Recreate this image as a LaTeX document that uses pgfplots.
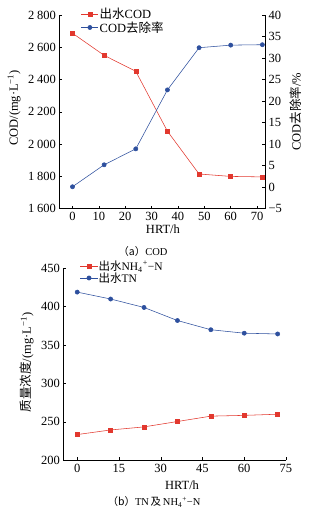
\documentclass[border=0pt]{standalone}
\usepackage{fontspec}
\setmainfont{Liberation Serif}
\newfontfamily\cjk{Noto Sans CJK SC}
\usepackage{pgfplots}
\pgfplotsset{compat=1.18}
\definecolor{cred}{RGB}{226,56,46}
\definecolor{cblue}{RGB}{46,80,158}
\pgfplotsset{
  common/.style={scale only axis, anchor=south west,
    font=\fontsize{12.5}{14}\selectfont,
    tick align=inside, major tick length=3pt,
    tick style={black, line width=0.45pt},
    axis line style={line width=0.5pt},
    /pgf/number format/assume math mode=true,
    /pgf/number format/1000 sep={\hspace{0.22em}},
    legend cell align=left,
    clip=false},
  redl/.style={color=cred, line width=0.55pt, mark=square*, mark size=2pt, mark options={fill=cred, draw=cred}},
  bluel/.style={color=cblue, line width=0.55pt, mark=*, mark size=2.1pt, mark options={fill=cblue, draw=cblue}},
}
\pgfplotstableread{
x cod rate
0 2687 0.1
12 2550 5.2
24 2451 8.9
36 2080 22.6
48 1815 32.4
60 1800 33.0
72 1797 33.1
}\codtable
\pgfplotstableread{
x nh tn
0 233.5 419
12 239.5 410
24 243.5 399
36 250.5 382
48 257.5 370
60 258.5 365.5
72 260 364.5
}\ntable
\begin{document}
\begin{tikzpicture}
\useasboundingbox (0pt,0pt) rectangle (323pt,514pt);
% ---------- top chart, left axis
\begin{axis}[common, at={(59.3pt,305.3pt)}, width=205.7pt, height=193.7pt,
  xmin=-5, xmax=73, ymin=1600, ymax=2800,
  axis x line*=bottom, axis y line*=left,
  xtick={0,10,...,70}, ytick={1600,1800,...,2800},
  xlabel={HRT/h}, xlabel style={at={(axis description cs:0.504,-0.105)}, anchor=center},
  ylabel={COD/(mg·L\textsuperscript{−1})},
  ylabel style={at={(axis description cs:-0.22,0.52)}, anchor=center, rotate=0},
]
\addplot[redl] table[x=x, y=cod] {\codtable};
\end{axis}
% ---------- top chart, right axis
\begin{axis}[common, at={(59.3pt,305.3pt)}, width=205.7pt, height=193.7pt,
  xmin=-5, xmax=73, ymin=-5, ymax=40,
  axis x line=none, axis y line*=right,
  ytick={-5,0,...,40}, yticklabels={−5,0,5,10,15,20,25,30,35,40},
  ylabel={COD{\cjk 去除率}/\%},
  ylabel style={at={(axis description cs:1.15,0.5)}, anchor=center, rotate=0},
  legend style={at={(0.105,1.04)}, anchor=north west, draw=none, fill=none,
    font=\fontsize{12.5}{13}\selectfont, inner sep=0pt, row sep=-1pt,
    nodes={inner sep=1pt}},
]
\addlegendimage{redl}
\addlegendentry{{\cjk 出水}COD}
\addplot[bluel] table[x=x, y=rate] {\codtable};
\addlegendentry{COD{\cjk 去除率}}
\end{axis}
\node[font=\fontsize{10.5}{12}\selectfont] at (143pt,262pt) {{\cjk （a）}COD};
% ---------- bottom chart
\begin{axis}[common, at={(63.3pt,53.7pt)}, width=222.7pt, height=192pt,
  xmin=-5, xmax=75, ymin=200, ymax=450,
  axis x line*=bottom, axis y line*=left,
  xtick={0,15,...,75}, ytick={200,250,...,450},
  xlabel={HRT/h}, xlabel style={at={(axis description cs:0.533,-0.129)}, anchor=center},
  ylabel={{\cjk 质量浓度}/(mg·L\textsuperscript{−1})},
  ylabel style={at={(axis description cs:-0.163,0.51)}, anchor=center, rotate=0},
  legend style={at={(0.075,1.045)}, anchor=north west, draw=none, fill=none,
    font=\fontsize{11.5}{12}\selectfont, inner sep=0pt, row sep=-1pt,
    nodes={inner sep=0.8pt}},
]
\addplot[redl] table[x=x, y=nh] {\ntable};
\addlegendentry{{\cjk 出水}NH\textsubscript{4}\textsuperscript{+}−N}
\addplot[bluel] table[x=x, y=tn] {\ntable};
\addlegendentry{{\cjk 出水}TN}
\end{axis}
\node[font=\fontsize{10.5}{12}\selectfont] at (154pt,12pt) {{\cjk （b）}TN\,{\cjk 及}\,NH\textsubscript{4}\textsuperscript{+}−N};
\end{tikzpicture}
\end{document}
